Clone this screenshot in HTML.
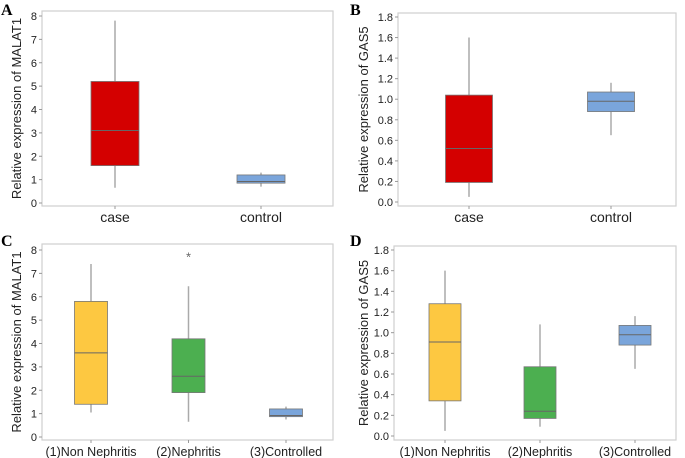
<!DOCTYPE html>
<html><head><meta charset="utf-8"><style>
html,body{margin:0;padding:0;background:#fff;}
svg{display:block;font-family:"Liberation Sans",sans-serif;}
</style></head><body>
<svg id="fig" width="685" height="458" viewBox="0 0 685 458"></svg>
<script>
// Panel A data
const catsA = ["case","control"];
const boxesA = [[0.65,1.6,3.1,5.2,7.8],[0.7,0.85,0.92,1.2,1.3]];
const ticksA = [0,1,2,3,4,5,6,7,8];
// Panel B data
const catsB = ["case","control"];
const boxesB = [[0.05,0.19,0.52,1.04,1.6],[0.65,0.88,0.98,1.07,1.16]];
const ticksB = ["0.0","0.2","0.4","0.6","0.8","1.0","1.2","1.4","1.6","1.8"];
// Panel C data
const catsC = ["(1)Non Nephritis","(2)Nephritis","(3)Controlled"];
const boxesC = [[1.05,1.4,3.6,5.8,7.4],[0.65,1.9,2.6,4.2,6.45],[0.75,0.87,0.92,1.2,1.3]];
const outliersC = [[],[7.8],[]];
const ticksC = [0,1,2,3,4,5,6,7,8];
// Panel D data
const catsD = ["(1)Non Nephritis","(2)Nephritis","(3)Controlled"];
const boxesD = [[0.05,0.34,0.91,1.28,1.6],[0.09,0.17,0.24,0.67,1.08],[0.65,0.88,0.98,1.07,1.16]];
const ticksD = ["0.0","0.2","0.4","0.6","0.8","1.0","1.2","1.4","1.6","1.8"];

const NS="http://www.w3.org/2000/svg";
const svg=document.getElementById('fig');
function mk(tag,attrs,parent){const e=document.createElementNS(NS,tag);for(const k in attrs)e.setAttribute(k,attrs[k]);(parent||svg).appendChild(e);return e;}

function panel(cfg){
  const g=mk('g',{});
  
  
  const ymin=Number(cfg.ticks[0]), ymax=Number(cfg.ticks[cfg.ticks.length-1]);
  const y=v=>cfg.y0+(v-ymin)/(ymax-ymin)*(cfg.y1-cfg.y0);
  const x=i=>cfg.xs[0]+i*(cfg.xs[1]-cfg.xs[0])/(cfg.cats.length>1?cfg.cats.length-1:1);
  const fr=mk('rect',{x:cfg.L,y:cfg.T,width:cfg.R-cfg.L,height:cfg.B-cfg.T,fill:'none',stroke:'#cfcfcf','stroke-width':1.2},g);
  
  
  const lt=mk('text',{x:cfg.lx,y:cfg.ly,'font-family':'Liberation Serif,serif','font-weight':'bold','font-size':16,fill:'#000'},g);
  lt.textContent=cfg.letter;
  
  
  cfg.ticks.forEach(t=>{
    const yy=y(Number(t));
    mk('line',{x1:cfg.L-3,x2:cfg.L,y1:yy,y2:yy,stroke:'#999'},g);
    const tx=mk('text',{x:cfg.L-5,y:yy+4,'font-size':11,'text-anchor':'end',fill:'#222'},g);
    tx.textContent=t;
    
    
  });
  const yt=mk('text',{x:0,y:0,'font-size':13,'text-anchor':'middle',fill:'#222',transform:`translate(${cfg.tx},${(cfg.T+cfg.B)/2}) rotate(-90)`},g);
  yt.textContent=cfg.title;
  
  
  cfg.cats.forEach((c,i)=>{
    const xx=x(i);
    mk('line',{x1:xx,x2:xx,y1:cfg.B,y2:cfg.B+3,stroke:'#999'},g);
    const tx=mk('text',{x:xx,y:cfg.B+16,'font-size':cfg.xfs,'text-anchor':'middle',fill:'#222'},g);
    tx.textContent=c;
    
    
    const b=cfg.boxes[i], w=cfg.bw;
    const wh=mk('line',{x1:xx,x2:xx,y1:y(b[0]),y2:y(b[4]),stroke:'#aaa','stroke-width':1.5},g);
    
    
    const r=mk('rect',{x:xx-w/2,y:y(b[3]),width:w,height:y(b[1])-y(b[3]),fill:cfg.colors[i],stroke:'#777','stroke-width':0.8},g);
    
    
    const md=mk('line',{x1:xx-w/2,x2:xx+w/2,y1:y(b[2]),y2:y(b[2]),stroke:'#666','stroke-width':1},g);
    
    
    (cfg.outliers?cfg.outliers[i]:[]).forEach(o=>{
      const ot=mk('text',{x:xx,y:y(o)+7,'font-size':13,'text-anchor':'middle',fill:'#666'},g);
      ot.textContent='*';
      
      
    });
  });
}
panel({letter:'A',lx:1,ly:15,L:42,T:11,R:333,B:206,y0:203,y1:16,xs:[115,261],bw:48,ticks:ticksA,cats:catsA,boxes:boxesA,colors:['#d40000','#7aa5db'],title:'Relative expression of MALAT1',tx:21,xfs:14});
panel({letter:'B',lx:350,ly:15,L:398,T:13,R:676,B:206,y0:202,y1:17,xs:[469,611],bw:47,ticks:ticksB,cats:catsB,boxes:boxesB,colors:['#d40000','#7aa5db'],title:'Relative expression of GAS5',tx:368,xfs:14});
panel({letter:'C',lx:1,ly:246,L:42,T:244,R:333,B:440,y0:437,y1:250,xs:[91,286],bw:33,ticks:ticksC,cats:catsC,boxes:boxesC,outliers:outliersC,colors:['#fdc841','#4caf50','#7aa5db'],title:'Relative expression of MALAT1',tx:21,xfs:12.5});
panel({letter:'D',lx:350,ly:246,L:394,T:246,R:676,B:440,y0:436,y1:250,xs:[445,635],bw:32,ticks:ticksD,cats:catsD,boxes:boxesD,colors:['#fdc841','#4caf50','#7aa5db'],title:'Relative expression of GAS5',tx:368,xfs:12.5});
</script>
</body></html>
